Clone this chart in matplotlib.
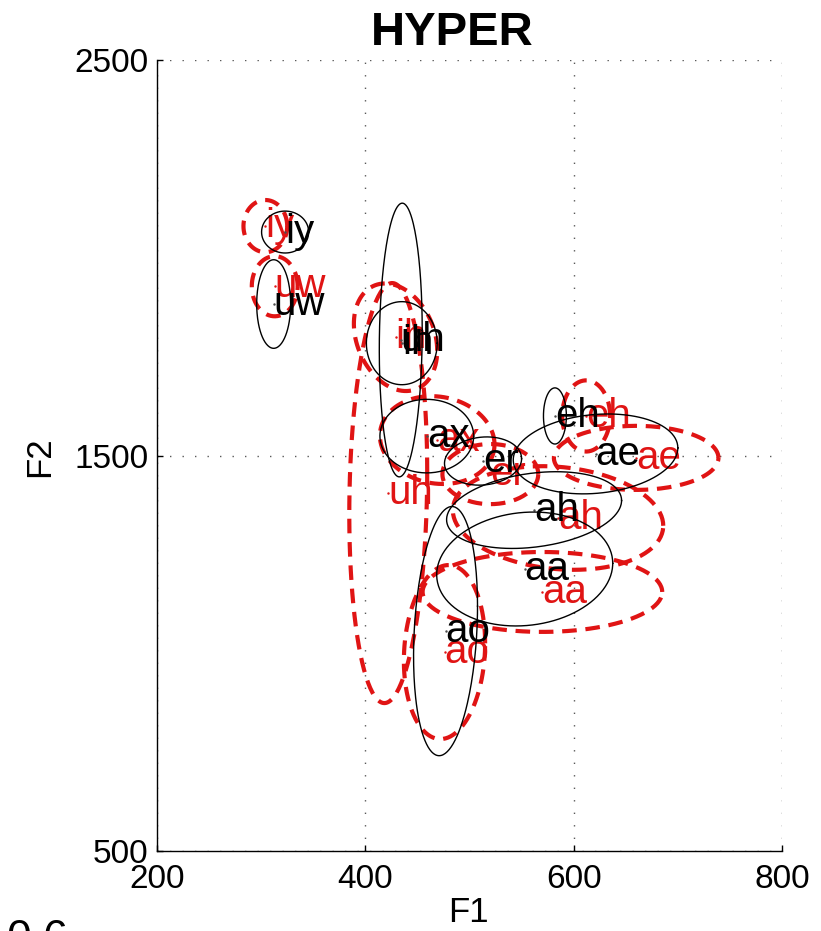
import numpy as np
import matplotlib
matplotlib.use('Agg')
import matplotlib.pyplot as plt

plt.rcParams['font.family'] = ['Liberation Sans', 'DejaVu Sans']

# vowel classes (same order for both conditions)
vowels = ['iy', 'uw', 'ih', 'uh', 'ax', 'er', 'eh', 'ae', 'ah', 'aa', 'ao']

# normal speech: formant means, spreads and F1/F2 correlation
norm_f1 = [323, 312, 435, 434, 459, 513, 582, 621, 562, 553, 477]
norm_f2 = [2065, 1883, 1784, 1792, 1549, 1486, 1600, 1504, 1362, 1213, 1056]
norm_sd1 = [22.6, 16.3, 34, 20.6, 45, 37, 11, 79, 84, 84.5, 30.7]
norm_sd2 = [53, 112, 105, 346, 93, 61, 71, 101, 97, 144, 315]
norm_r = [0.0, 0.0, 0.0, 0.07, 0.0, 0.1, 0.0, 0.15, 0.25, 0.1, 0.2]

# hyperarticulated speech
hyper_f1 = [304, 313, 429, 422, 469, 520, 612, 660, 585, 570, 476]
hyper_f2 = [2080, 1928, 1799, 1405, 1539, 1453, 1600, 1494, 1342, 1155, 1003]
hyper_sd1 = [21, 22, 40, 37.4, 55, 46, 23, 79, 101, 115, 39]
hyper_sd2 = [66, 76, 136, 531, 111, 76, 90, 81, 131, 101, 220]
hyper_r = [0.0, 0.0, -0.25, 0.1, -0.1, 0.0, 0.0, 0.0, -0.15, 0.0, 0.1]

RED = '#e01414'


def ellipse(cx, cy, s1, s2, r, n=200):
    t = np.linspace(0, 2 * np.pi, n)
    x = cx + s1 * np.cos(t)
    y = cy + s2 * (r * np.cos(t) + np.sqrt(1 - r ** 2) * np.sin(t))
    return x, y


fig = plt.figure(figsize=(8.21, 9.31), dpi=100)
ax = fig.add_axes([157 / 821, 80 / 931, 625 / 821, 791 / 931])

# hyper condition first (dashed red), normal on top
for v, cx, cy, s1, s2, r in zip(vowels, hyper_f1, hyper_f2, hyper_sd1, hyper_sd2, hyper_r):
    x, y = ellipse(cx, cy, s1, s2, r)
    ax.plot(x, y, color=RED, lw=3.0, dashes=(3.5, 2.1), zorder=3)
    ax.plot(cx, cy, '.', color=RED, ms=1.5, zorder=3)
    ax.text(cx, cy, v, color=RED, fontsize=29, ha='left', va='center', zorder=4)

for v, cx, cy, s1, s2, r in zip(vowels, norm_f1, norm_f2, norm_sd1, norm_sd2, norm_r):
    x, y = ellipse(cx, cy, s1, s2, r)
    ax.plot(x, y, color='black', lw=1.0, zorder=5)
    ax.plot(cx, cy, '.', color='0.3', ms=1.5, zorder=5)
    ax.text(cx, cy, v, color='black', fontsize=29, ha='left', va='center', zorder=6)

ax.set_xlim(200, 800)
ax.set_ylim(500, 2500)
ax.set_xticks([200, 400, 600, 800])
ax.set_yticks([500, 1500, 2500])
ax.grid(True, color='0.35', lw=1.0, linestyle=(0, (1, 8)), zorder=0)
ax.set_axisbelow(True)
for side in ['top', 'right']:
    ax.spines[side].set_visible(False)
for side in ['left', 'bottom']:
    ax.spines[side].set_linewidth(1.0)
ax.tick_params(direction='in', length=4.5, width=1.0, labelsize=24,
               top=False, right=False)
ax.tick_params(axis='y', pad=6)
ax.tick_params(axis='x', pad=9)

fig.text(452 / 821, 1 - 33 / 931, 'HYPER', fontsize=34, fontweight='bold',
         ha='center', va='center')
fig.text(468 / 821, 1 - 913 / 931, 'F1', fontsize=25, ha='center', va='center')
fig.text(40 / 821, 1 - 457 / 931, 'F2', fontsize=25, rotation=90,
         ha='center', va='center')
fig.text(6 / 821, 1 - 919 / 931, '0.6', fontsize=32, ha='left', va='top')

fig.savefig('out.png', dpi=100)
